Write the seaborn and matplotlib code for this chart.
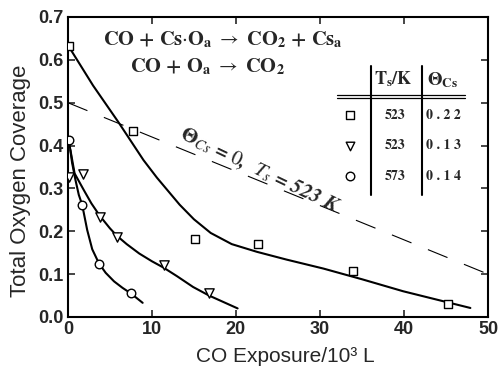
import matplotlib
matplotlib.use("Agg")
import matplotlib.pyplot as plt
import seaborn as sns
import pandas as pd

# ---- data ----
sq_x = [0.1, 7.7, 15.1, 22.6, 33.9, 45.2]
sq_y = [0.632, 0.434, 0.181, 0.170, 0.107, 0.030]
tri_x = [0.15, 1.8, 3.8, 5.8, 11.4, 16.8]
tri_y = [0.326, 0.334, 0.234, 0.187, 0.122, 0.056]
cir_x = [0.1, 1.7, 3.7, 7.5]
cir_y = [0.413, 0.262, 0.124, 0.056]

sq_fit_x = [0.3, 3.0, 6.0, 9.0, 10.6, 12.1, 13.3, 15.0, 17.0, 19.5, 22.5, 26.0, 30.4, 35.0, 39.9, 44.0, 47.9]
sq_fit_y = [0.625, 0.54, 0.455, 0.366, 0.325, 0.29, 0.262, 0.228, 0.196, 0.17, 0.152, 0.134, 0.113, 0.088, 0.06, 0.04, 0.021]
tri_fit_x = [0.3, 0.8, 1.9, 2.8, 3.8, 5.0, 5.8, 7.0, 8.5, 10.0, 11.4, 13.0, 14.9, 16.8, 18.5, 20.2]
tri_fit_y = [0.39, 0.335, 0.296, 0.265, 0.236, 0.207, 0.19, 0.17, 0.148, 0.13, 0.115, 0.095, 0.07, 0.05, 0.035, 0.02]
cir_fit_x = [0.15, 0.5, 0.9, 1.3, 1.7, 2.3, 2.9, 3.7, 4.5, 5.5, 6.5, 7.5, 8.9]
cir_fit_y = [0.41, 0.36, 0.32, 0.285, 0.262, 0.203, 0.158, 0.125, 0.103, 0.083, 0.068, 0.055, 0.033]

ref_x = [0, 50]
ref_y = [0.5, 0.1]

table_ts = ["523", "523", "573"]
table_theta = ["0.22", "0.13", "0.14"]
table_markers = ["s", "v", "o"]

x_ticks = [0, 10, 20, 30, 40, 50]
y_ticks = [0.0, 0.1, 0.2, 0.3, 0.4, 0.5, 0.6, 0.7]

# ---- style ----
sns.set_theme(style="ticks")
plt.rcParams["font.family"] = ["Liberation Sans", "DejaVu Sans"]
plt.rcParams["mathtext.fontset"] = "stix"

fig = plt.figure(figsize=(4.99, 3.69), dpi=100)
ax = fig.add_axes([0.136, 0.141, 0.842, 0.813])

# fitted curves
for fx, fy in [(sq_fit_x, sq_fit_y), (tri_fit_x, tri_fit_y), (cir_fit_x, cir_fit_y)]:
    sns.lineplot(x=fx, y=fy, ax=ax, color="black", lw=1.5, sort=False, estimator=None)

# reference dashed line
sns.lineplot(x=ref_x, y=ref_y, ax=ax, color="black", lw=0.8)
ax.lines[-1].set_dashes([19, 16])

# data points
for px, py, m, s in [(sq_x, sq_y, "s", 38), (tri_x, tri_y, "v", 45), (cir_x, cir_y, "o", 38)]:
    sns.scatterplot(x=px, y=py, ax=ax, marker=m, s=s, facecolor="white",
                    edgecolor="black", linewidth=1.0, zorder=5)

ax.set_xlim(0, 50)
ax.set_ylim(0, 0.7)
ax.set_xticks(x_ticks)
ax.set_yticks(y_ticks)
ax.set_xticklabels([str(v) for v in x_ticks])
ax.set_yticklabels([f"{v:.1f}" for v in y_ticks])
ax.tick_params(direction="in", top=True, right=True, length=5, width=1.2,
               labelsize=13, pad=3)
for lab in ax.get_xticklabels() + ax.get_yticklabels():
    lab.set_fontweight("bold")
for sp in ax.spines.values():
    sp.set_linewidth(1.5)
    sp.set_color("black")

ax.set_xlabel("CO Exposure/10³ L", fontsize=15)
ax.set_ylabel("Total Oxygen Coverage", fontsize=16)
ax.xaxis.set_label_coords(0.517, -0.10)
ax.yaxis.set_label_coords(-0.088, 0.455)

serif = "STIXGeneral"
ax.text(18.4, 0.646, r"CO + Cs$\cdot$O$_{\mathbf{a}}$ $\rightarrow$ CO$_{\mathbf{2}}$ + Cs$_{\mathbf{a}}$",
        family=serif, fontweight="bold", fontsize=14.7, ha="center", va="center")
ax.text(16.6, 0.583, r"CO + O$_{\mathbf{a}}$ $\rightarrow$ CO$_{\mathbf{2}}$",
        family=serif, fontweight="bold", fontsize=14.7, ha="center", va="center")

ax.text(22.8, 0.342, r"$\mathbf{\Theta}_{Cs}$ = $\mathit{0}$,  $T_{s}$ = 523 K",
        family=serif, fontweight="bold", fontstyle="italic", fontsize=15,
        rotation=-25.5, ha="center", va="center", rotation_mode="anchor")

# table
ax.text(38.7, 0.555, r"T$_\mathbf{s}$/K", family=serif, fontweight="bold", fontsize=13,
        ha="center", va="center")
ax.text(44.6, 0.552, r"$\mathbf{\Theta}_{\mathbf{Cs}}$", family=serif, fontsize=13.5,
        ha="center", va="center")
ax.plot([32.0, 47.3], [0.518, 0.518], color="black", lw=0.9)
ax.plot([32.0, 47.3], [0.512, 0.512], color="black", lw=0.9)
ax.plot([36.1, 36.1], [0.285, 0.585], color="black", lw=1.5)
ax.plot([42.2, 42.2], [0.285, 0.585], color="black", lw=1.5)
row_y = [0.471, 0.40, 0.328]
for yv, m, ts, th in zip(row_y, table_markers, table_ts, table_theta):
    ax.scatter([33.6], [yv], marker=m, s=38, facecolor="white", edgecolor="black", lw=1.0)
    ax.text(38.9, yv, ts, family=serif, fontweight="bold", fontsize=10,
            ha="center", va="center")
    ax.text(44.7, yv, " ".join(th), family=serif, fontweight="bold", fontsize=10,
            ha="center", va="center")

fig.savefig("out.png", dpi=100)
